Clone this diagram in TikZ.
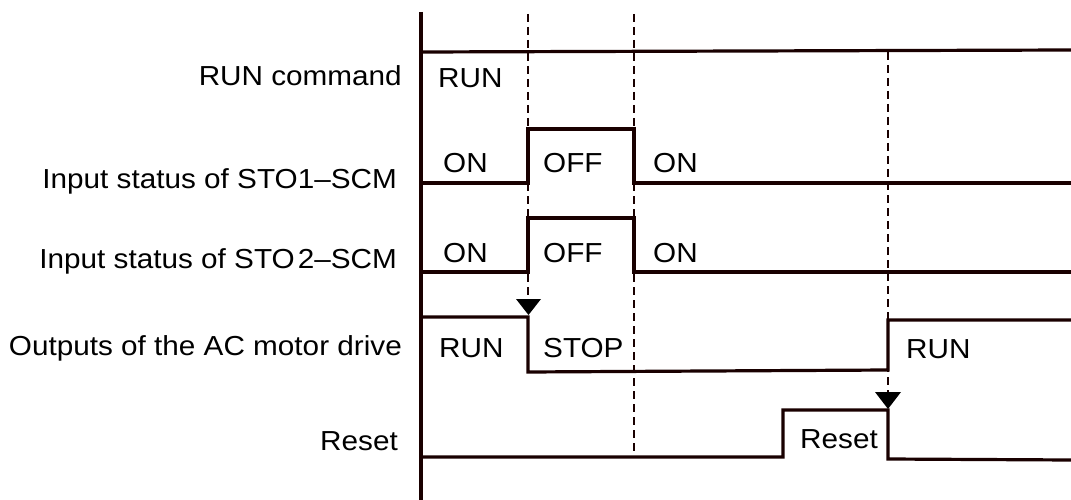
\documentclass[tikz,border=0pt]{standalone}
\usepackage{fontspec}
\setmainfont{Liberation Sans}[FakeStretch=1.08]
\begin{document}
\begin{tikzpicture}[x=1pt,y=-1pt,
  wave/.style={line width=3.2pt,line join=miter,color=black!90!red},
  guide/.style={line width=2.2pt,dash pattern=on 8pt off 5pt,color=black!90!red},
  tri/.style={fill=black},
  lbl/.style={inner sep=0pt,anchor=base east,font=\fontsize{27.5}{32}\selectfont},
  st/.style={inner sep=0pt,anchor=base west,font=\fontsize{27.5}{32}\selectfont}]
\useasboundingbox (0,0) rectangle (1071,500);
% axis
\coordinate (axT) at (421,12);
\coordinate (axB) at (421,500);
\draw[wave] (axT) -- (axB);
% left labels
\node[lbl] (l1) at (402,86) {RUN command};
\node[lbl] (l2) at (397,188) {Input status of STO1–SCM};
\node[lbl] (l3) at (397,268) {Input status of STO\kern3pt2–SCM};
\node[lbl] (l4) at (402,355) {Outputs of the AC motor drive};
\node[lbl] (l5) at (398,450) {Reset};
% RUN command
\coordinate (r0) at (421,52);
\coordinate (r1) at (1071,50);
\draw[wave] (r0) -- (r1);
\node[st] (tR) at (438,88) {RUN};
% STO1
\draw[wave] (421,183) -- (528,183) -- (528,129) -- (634,129) -- (634,183) -- (1071,183);
\node[st] (s1a) at (443,172) {ON};
\node[st] (s1b) at (543,172) {OFF};
\node[st] (s1c) at (653,172) {ON};
% STO2
\draw[wave] (421,272) -- (528,272) -- (528,218) -- (634,218) -- (634,272) -- (1071,272);
\node[st] (s2a) at (443,262) {ON};
\node[st] (s2b) at (543,262) {OFF};
\node[st] (s2c) at (653,262) {ON};
% Outputs
\draw[wave] (421,317) -- (528,317) -- (528,372) -- (888,370) -- (888,320) -- (1071,320);
\node[st] (o1) at (439,357) {RUN};
\node[st] (o2) at (543,357) {STOP};
\node[st] (o3) at (906,358) {RUN};
% Reset
\draw[wave] (421,457) -- (783,457) -- (783,410) -- (888,410) -- (888,459) -- (1071,460);
\node[st] (rs) at (800,448) {Reset};
% guides
\coordinate (g1t) at (528,14);  \coordinate (g1b) at (528,300);
\coordinate (g2t) at (634,14);  \coordinate (g2b) at (634,458);
\coordinate (g3t) at (888,52);  \coordinate (g3b) at (888,393);
\draw[guide] (g1t) -- (g1b);
\draw[guide] (g2t) -- (g2b);
\draw[guide] (g3t) -- (g3b);
% triangles
\fill[tri] (516,299) -- (541,299) -- (528.5,315) -- cycle;
\fill[tri] (875,392) -- (901,392) -- (888,409) -- cycle;
\end{tikzpicture}
\end{document}
